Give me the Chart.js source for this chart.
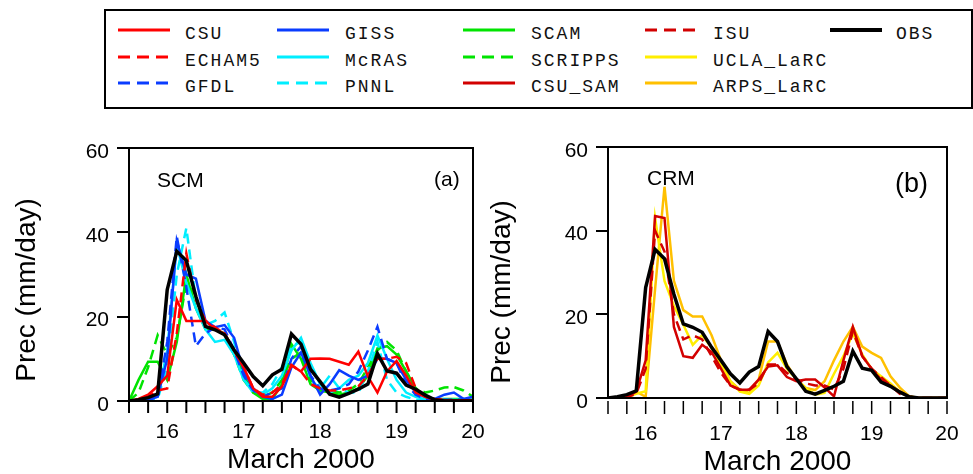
<!DOCTYPE html>
<html>
<head>
<meta charset="utf-8">
<script src="https://cdn.jsdelivr.net/npm/chart.js@4.4.0/dist/chart.umd.min.js"></script>
<style>
  body { margin: 0; background: #fff; width: 973px; height: 474px; position: relative; overflow: hidden; }
  canvas { position: absolute; top: 0; }
  #legendBox { position: absolute; left: 104px; top: 9px; width: 865px; height: 96px; border: 2px solid #000; }
  .lgText { position: absolute; font: 18px "Liberation Mono", monospace; letter-spacing: 2px; color: #111; white-space: pre; line-height: 18px; }
  .lgLine { position: absolute; }
</style>
</head>
<body>
<div id="legendBox"></div>
<div id="legendItems"></div>
<canvas id="scmChart" width="486" height="474" style="left:0"></canvas>
<canvas id="crmChart" width="487" height="474" style="left:486px"></canvas>
<script>
// time axis, March 2000 (3-hourly)
const times = [15.5, 15.625, 15.75, 15.875, 16, 16.125, 16.25, 16.375, 16.5, 16.625, 16.75, 16.875,
  17, 17.125, 17.25, 17.375, 17.5, 17.625, 17.75, 17.875, 18, 18.125, 18.25, 18.375, 18.5, 18.625,
  18.75, 18.875, 19, 19.125, 19.25, 19.375, 19.5, 19.625, 19.75, 19.875, 20];

// precipitation (mm/day)
const obs = [0, 0.3, 0.8, 1.7, 26.4, 35.5, 33.3, 24.8, 17.7, 16.9, 15.7, 12.1, 9, 5.8, 3.6, 6.2, 7.5, 15.9, 13.5, 7.5, 4.6, 1.6, 0.9, 1.8, 2.8, 4, 11.2, 7.1, 6.6, 3.8, 2.8, 1.4, 0.3, 0, 0, 0, 0];

// SCM runs
const csu = [0, 0.5, 1.5, 3.5, 6, 24, 19, 19, 19, 17, 16, 12, 8, 3, 1, 1, 3.4, 8.5, 7, 10, 10.1, 10, 9.3, 8.6, 11.7, 5.8, 2, 7, 9.5, 6, 2, 1, 0.3, 0.2, 0.2, 0.2, 0.2];
const echam5 = [0, 0.3, 1, 2.5, 3, 16, 35, 24, 19, 17.5, 16, 12, 8, 3, 1.5, 2, 4, 8.5, 7, 4, 3, 2.5, 2.5, 3, 3.5, 6, 10, 10, 10.5, 9, 3, 1, 0.5, 0.3, 0.2, 0.2, 0.2];
const gfdl = [0, 0, 0.3, 1, 14, 39, 27, 13, 16, 17.5, 17, 12, 6, 2.5, 1, 2, 3, 10, 13, 6, 3, 2.5, 3, 4, 7, 12, 17.6, 10, 9, 4, 1.5, 0.5, 0.3, 0.3, 0.3, 0.3, 0.3];
const giss = [0, 0, 0.3, 1, 10, 38, 30, 29, 19, 17.5, 18, 15, 7, 3, 1, 0.5, 1.5, 8, 11.5, 6, 1.5, 4, 7.3, 6, 5, 6, 10, 10, 9, 5, 2, 1, 0.5, 1.5, 2, 0.5, 1];
const mcras = [0, 0.2, 0.5, 1, 12, 37, 28, 22, 17, 14, 14.5, 11, 5, 2.5, 1.5, 3, 6, 12, 15, 9, 4, 2, 3, 5, 6, 9, 15.5, 10, 5, 2, 1, 0.5, 0.3, 0.3, 0.3, 0.3, 0.3];
const pnnl = [0, 0, 0.2, 0.5, 8, 30, 41, 24, 18, 19, 21, 14, 5, 2, 2, 4, 8, 13, 14, 5, 3, 6, 3, 2, 2, 7, 14, 5, 2, 1, 0.3, 0.2, 0.2, 0.2, 0.2, 0.2, 0.2];
const scam = [0, 5, 9.3, 9.3, 5, 14, 30, 22, 17, 17, 16, 12, 6, 2, 0.5, 0.5, 4, 13.5, 10, 4, 2.5, 2, 1.5, 2, 3, 6, 12.5, 13, 11, 7, 3, 1, 0.5, 0.5, 0.5, 0.5, 0.3];
const scripps = [0, 2, 8, 15.6, 11, 15, 28, 25, 17, 17, 16, 11, 5, 2, 1, 2, 5, 10, 11.5, 5, 3, 2.5, 2, 2.5, 4, 8, 12, 14, 12, 7, 3, 2, 2.5, 3.2, 3.3, 2.5, 1];

// CRM runs
const csuSam = [0, 0, 0.2, 1.5, 9, 43.5, 43, 17, 10, 9.6, 12.7, 11, 7, 3, 2, 2, 4.4, 7.5, 7.8, 5, 4, 4.4, 4.4, 2.5, 0.4, 9, 17, 10, 7, 4.4, 3, 1.5, 0.3, 0, 0, 0, 0];
const isu = [0, 0, 0.2, 1, 7, 40, 35, 20, 14, 15, 14, 10, 6, 3, 2, 2, 3.5, 8, 8, 6, 4.5, 3.5, 3, 3, 2, 7, 16, 10, 7, 5, 3, 1, 0.2, 0, 0, 0, 0];
const uclaLarc = [0, 0, 0.2, 1, 1.6, 43, 28, 22, 17.5, 12.7, 15, 12, 8, 4, 1.5, 1, 3, 8.5, 10.8, 7, 4.5, 2.4, 0.8, 1.2, 5.8, 10, 15.5, 10.4, 6.9, 5.2, 3.5, 1.5, 0.3, 0, 0, 0, 0];
const arpsLarc = [0, 0, 0.2, 1.5, 0.3, 26, 50.5, 28, 21, 19.5, 19.5, 15, 9, 4, 2, 1.2, 4.4, 13.5, 13.5, 8, 4.5, 2.4, 1.9, 4, 9, 13.5, 17, 12.3, 10.8, 9.6, 5.2, 2.5, 0.4, 0, 0, 0, 0];

const yTicks = [0, 20, 40, 60];
const dayLabels = [16, 17, 18, 19, 20];

const RED = "#ff0000", BLUE = "#0a3cff", CYAN = "#00eeff", GREEN = "#00e400";
const DARKRED = "#d20000", YELLOW = "#ffee00", GOLD = "#ffc000";
const DASH = [10, 6];

// name, data, color, dashed, legend column/row
const scmSeries = [
  ["CSU", csu, RED, false, 0, 0],
  ["ECHAM5", echam5, RED, true, 0, 1],
  ["GFDL", gfdl, BLUE, true, 0, 2],
  ["GISS", giss, BLUE, false, 1, 0],
  ["McRAS", mcras, CYAN, false, 1, 1],
  ["PNNL", pnnl, CYAN, true, 1, 2],
  ["SCAM", scam, GREEN, false, 2, 0],
  ["SCRIPPS", scripps, GREEN, true, 2, 1],
];
const crmSeries = [
  ["CSU_SAM", csuSam, DARKRED, false, 2, 2],
  ["ISU", isu, DARKRED, true, 3, 0],
  ["UCLA_LaRC", uclaLarc, YELLOW, false, 3, 1],
  ["ARPS_LaRC", arpsLarc, GOLD, false, 3, 2],
];
const obsSeries = ["OBS", obs, "#000000", false, 4, 0];

// ---- legend (html) ----
const colLineX = [118, 277, 463, 645, 830];
const colTextX = [185, 345, 531, 713, 896];
const rowY = [30, 57, 83];
const items = document.getElementById("legendItems");
[...scmSeries, ...crmSeries, obsSeries].forEach(([name, , color, dashed, col, row]) => {
  const w = name === "OBS" ? 4 : 3;
  const svg = document.createElementNS("http://www.w3.org/2000/svg", "svg");
  svg.setAttribute("class", "lgLine");
  svg.setAttribute("width", 54);
  svg.setAttribute("height", 8);
  svg.style.left = colLineX[col] + "px";
  svg.style.top = (rowY[row] - 4) + "px";
  svg.innerHTML = `<line x1="0" y1="4" x2="52" y2="4" stroke="${color}" stroke-width="${w}"` +
    (dashed ? ` stroke-dasharray="12,7"` : "") + "/>";
  items.appendChild(svg);
  const t = document.createElement("div");
  t.className = "lgText";
  t.textContent = name;
  t.style.left = colTextX[col] + "px";
  t.style.top = (rowY[row] - 5) + "px";
  items.appendChild(t);
});

// ---- charts ----
function toPoints(arr) {
  return arr.map((v, i) => ({ x: times[i], y: v }));
}
function makeDataset([name, data, color, dashed]) {
  return {
    label: name,
    data: toPoints(data),
    borderColor: color,
    borderWidth: name === "OBS" ? 3.5 : 2.5,
    borderDash: dashed ? DASH : [],
    pointRadius: 0,
    tension: 0,
    fill: false,
  };
}

// box, outside x ticks and titles
const framePlugin = {
  id: "frame",
  afterDraw(chart, args, o) {
    const { ctx, chartArea: a, scales: { x } } = chart;
    ctx.save();
    ctx.strokeStyle = "#000";
    ctx.lineWidth = 2;
    ctx.strokeRect(a.left, a.top, a.right - a.left, a.bottom - a.top);
    ctx.lineWidth = o.tickWidth;
    x.ticks.forEach((t) => {
      const px = x.getPixelForValue(t.value);
      ctx.beginPath();
      ctx.moveTo(px, a.bottom + o.gap);
      ctx.lineTo(px, a.bottom + o.gap + o.len);
      ctx.stroke();
    });
    ctx.fillStyle = "#000";
    ctx.textBaseline = "alphabetic";
    ctx.font = '21px "Liberation Sans", Arial, sans-serif';
    ctx.textAlign = "left";
    ctx.fillText(o.name, o.nameX, o.nameY);
    ctx.font = o.tagFont;
    ctx.fillText(o.tag, o.tagX, o.tagY);
    ctx.font = '28px "Liberation Sans", Arial, sans-serif';
    ctx.textAlign = "center";
    ctx.fillText("March 2000", (a.left + a.right) / 2, o.xTitleY);
    ctx.translate(o.yTitleX, o.yTitleY);
    ctx.rotate(-Math.PI / 2);
    ctx.textBaseline = "middle";
    ctx.fillText("Prec (mm/day)", 0, 0);
    ctx.restore();
  },
};

function makeChart(id, series, cfg) {
  return new Chart(document.getElementById(id), {
    type: "line",
    data: { datasets: [obsSeries, ...series].map(makeDataset) },
    options: {
      responsive: false,
      animation: false,
      layout: { autoPadding: false, padding: { top: cfg.top, right: cfg.right, left: 0, bottom: 0 } },
      scales: {
        x: {
          type: "linear",
          min: 15.5,
          max: 20,
          afterFit: (s) => {
            s.height = 474 - cfg.bottom;
            s.paddingLeft = 0;
            s.paddingRight = 0;
          },
          grid: { display: false, drawTicks: false },
          border: { display: false },
          ticks: {
            stepSize: 0.25,
            autoSkip: false,
            maxRotation: 0,
            padding: cfg.xPad,
            color: "#000",
            font: { family: '"Liberation Sans", Arial, sans-serif', size: 21 },
            callback: (v) => (dayLabels.includes(v) ? String(v) : ""),
          },
        },
        y: {
          min: yTicks[0],
          max: yTicks[yTicks.length - 1],
          afterFit: (s) => { s.width = cfg.left; },
          grid: { drawOnChartArea: false, tickLength: 12, color: "#000", lineWidth: 2 },
          border: { display: false },
          ticks: {
            stepSize: 20,
            padding: 8,
            labelOffset: 4,
            color: "#000",
            font: { family: '"Liberation Sans", Arial, sans-serif', size: 21 },
          },
        },
      },
      plugins: {
        legend: { display: false },
        tooltip: { enabled: false },
        frame: cfg.frame,
      },
    },
    plugins: [framePlugin],
  });
}

makeChart("scmChart", scmSeries, {
  top: 148, right: 13, left: 129, bottom: 401, xPad: 19,
  frame: {
    gap: 0, len: 12, tickWidth: 2,
    name: "SCM", nameX: 157, nameY: 187,
    tag: "(a)", tagX: 434, tagY: 186, tagFont: '21px "Liberation Sans", Arial, sans-serif',
    xTitleY: 468, yTitleX: 27, yTitleY: 290,
  },
});

makeChart("crmChart", crmSeries, {
  top: 147, right: 26, left: 122, bottom: 398, xPad: 24,
  frame: {
    gap: 3, len: 13, tickWidth: 1.5,
    name: "CRM", nameX: 161, nameY: 185,
    tag: "(b)", tagX: 409, tagY: 192, tagFont: '27px "Liberation Sans", Arial, sans-serif',
    xTitleY: 470, yTitleX: 16, yTitleY: 292,
  },
});
</script>
</body>
</html>
